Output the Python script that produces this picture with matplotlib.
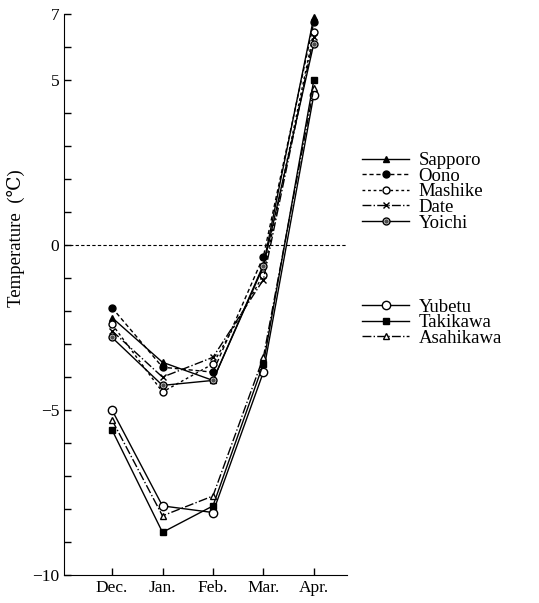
import matplotlib
matplotlib.use("Agg")
import matplotlib.pyplot as plt
from matplotlib.legend_handler import HandlerTuple

plt.rcParams['font.family'] = ['Liberation Serif', 'DejaVu Serif']

months = ["Dec.", "Jan.", "Feb.", "Mar.", "Apr."]
xpos = [1, 2, 3, 4, 5]

sapporo = [-2.2, -3.55, -4.1, -0.6, 6.9]
oono = [-1.9, -3.7, -3.85, -0.35, 6.75]
mashike = [-2.4, -4.45, -3.6, -0.9, 6.45]
date = [-2.6, -4.0, -3.4, -1.05, 6.3]
yoichi = [-2.8, -4.25, -4.1, -0.65, 6.1]

yubetu = [-5.0, -7.9, -8.1, -3.85, 4.55]
takikawa = [-5.6, -8.7, -7.9, -3.6, 5.0]
asahikawa = [-5.3, -8.2, -7.6, -3.4, 4.75]

fig = plt.figure(figsize=(5.39, 6.03), dpi=100)
ax = fig.add_axes([0.119, 0.046, 0.525, 0.931])

lw = 1.0
ms = 5
h_sap, = ax.plot(xpos, sapporo, '-', color='k', lw=lw, marker='^', ms=ms, mfc='k', mec='k')
h_oon, = ax.plot(xpos, oono, '--', color='k', lw=lw, marker='o', ms=ms, mfc='k', mec='k', dashes=(3, 2))
h_mas, = ax.plot(xpos, mashike, '--', color='k', lw=lw, marker='o', ms=ms, mfc='white', mec='k', dashes=(2, 2))
h_dat, = ax.plot(xpos, date, '-.', color='k', lw=lw, marker='x', ms=4, mec='k')
h_yoi, = ax.plot(xpos, yoichi, '-', color='k', lw=lw, marker='o', ms=ms, mfc='white', mec='k')
h_yoi2, = ax.plot(xpos, yoichi, ls='none', color='k', marker='o', ms=2.2, mfc='0.3', mec='0.3')

h_yub, = ax.plot(xpos, yubetu, '-', color='k', lw=lw, marker='o', ms=ms + 1, mfc='white', mec='k')
h_tak, = ax.plot(xpos, takikawa, '-', color='k', lw=lw, marker='s', ms=ms, mfc='k', mec='k')
h_asa, = ax.plot(xpos, asahikawa, '-.', color='k', lw=lw, marker='^', ms=ms, mfc='white', mec='k')

ax.axhline(0, color='k', lw=0.8, ls=(0, (3, 2)))

ax.set_xlim(0.05, 5.66)
ax.set_ylim(-10, 7)
ax.set_xticks(xpos)
ax.set_xticklabels(months, fontsize=12.5)
ax.set_yticks(range(-10, 8))
ax.set_yticklabels([str(v).replace('-', '\u2212') if v in (-10, -5, 0, 5, 7) else '' for v in range(-10, 8)], fontsize=12.5)
ax.tick_params(direction='in', length=5, width=1)
ax.spines['top'].set_visible(False)
ax.spines['right'].set_visible(False)
ax.set_ylabel("Temperature  (\u2103)", fontsize=13.5)
ax.yaxis.set_label_coords(-0.14, 0.6)

legkw = dict(bbox_transform=fig.transFigure, loc='upper left', frameon=False,
             fontsize=13.5, handlelength=2.5, handletextpad=0.5,
             labelspacing=-0.08, borderaxespad=0, borderpad=0)
leg1 = ax.legend([h_sap, h_oon, h_mas, h_dat, (h_yoi, h_yoi2)],
                 ["Sapporo", "Oono", "Mashike", "Date", "Yoichi"],
                 handler_map={tuple: HandlerTuple(ndivide=1)},
                 bbox_to_anchor=(0.672, 0.748), **legkw)
ax.add_artist(leg1)
ax.legend([h_yub, h_tak, h_asa], ["Yubetu", "Takikawa", "Asahikawa"],
          bbox_to_anchor=(0.672, 0.505), **legkw)

fig.savefig("out.png", dpi=100)
